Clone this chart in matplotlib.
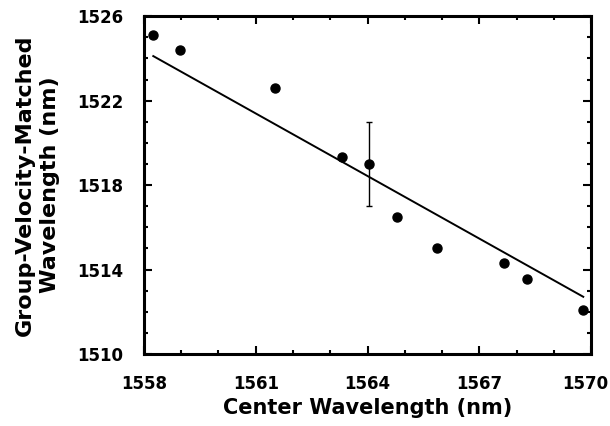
import matplotlib.pyplot as plt
import numpy as np
from matplotlib.ticker import MultipleLocator
from matplotlib.transforms import ScaledTranslation

plt.rcParams['font.family'] = ['DejaVu Sans']
plt.rcParams['font.weight'] = 'bold'

# measured points
center_wl = [1558.25, 1558.98, 1561.51, 1563.32, 1564.05, 1564.79,
             1565.86, 1567.67, 1568.28, 1569.79]
gvm_wl = [1525.10, 1524.39, 1522.58, 1519.35, 1518.98, 1516.47,
          1515.03, 1514.30, 1513.57, 1512.07]

# one representative error bar
err_x = [1564.05]
err_y = [1518.98]
err_lo = [1.95]
err_hi = [2.02]

# fitted line end points
fit_x = [1558.25, 1569.79]
fit_y = [1524.11, 1512.71]

x_ticks = [1558, 1561, 1564, 1567, 1570]
y_ticks = [1510, 1514, 1518, 1522, 1526]

fig = plt.figure(figsize=(6.1, 4.26), dpi=100)
ax = fig.add_axes([0.236, 0.169, 0.733, 0.793])

ax.plot(fit_x, fit_y, color='black', lw=1.4)
ax.plot(center_wl, gvm_wl, 'o', color='black', ms=6.5)
ax.errorbar(err_x, err_y, yerr=[err_lo, err_hi], fmt='none', ecolor='black',
            elinewidth=1.0, capsize=2.5, capthick=1.0)

ax.set_xlim(1558, 1570)
ax.set_ylim(1510, 1526)
ax.set_xticks(x_ticks)
ax.set_yticks(y_ticks)
ax.xaxis.set_minor_locator(MultipleLocator(1))
ax.yaxis.set_minor_locator(MultipleLocator(1))

ax.tick_params(which='both', direction='in', top=True, right=True, width=1.5)
ax.tick_params(which='major', length=6, labelsize=12)
ax.tick_params(axis='x', which='major', pad=15)
ax.tick_params(axis='y', which='major', pad=15)
ax.tick_params(which='minor', length=3)
for lbl in ax.get_xticklabels() + ax.get_yticklabels():
    lbl.set_fontweight('bold')
# last x label sits right at the figure edge, nudge it in
last = ax.get_xticklabels()[-1]
last.set_transform(last.get_transform() + ScaledTranslation(-6 / 100, 0, fig.dpi_scale_trans))
for sp in ax.spines.values():
    sp.set_linewidth(2.2)

ax.set_xlabel('Center Wavelength (nm)', fontsize=15, fontweight='bold', labelpad=4)
ax.set_ylabel('Group-Velocity-Matched\nWavelength (nm)', fontsize=16,
              fontweight='bold', labelpad=12, linespacing=1.35)

fig.savefig('out.png', dpi=100)
